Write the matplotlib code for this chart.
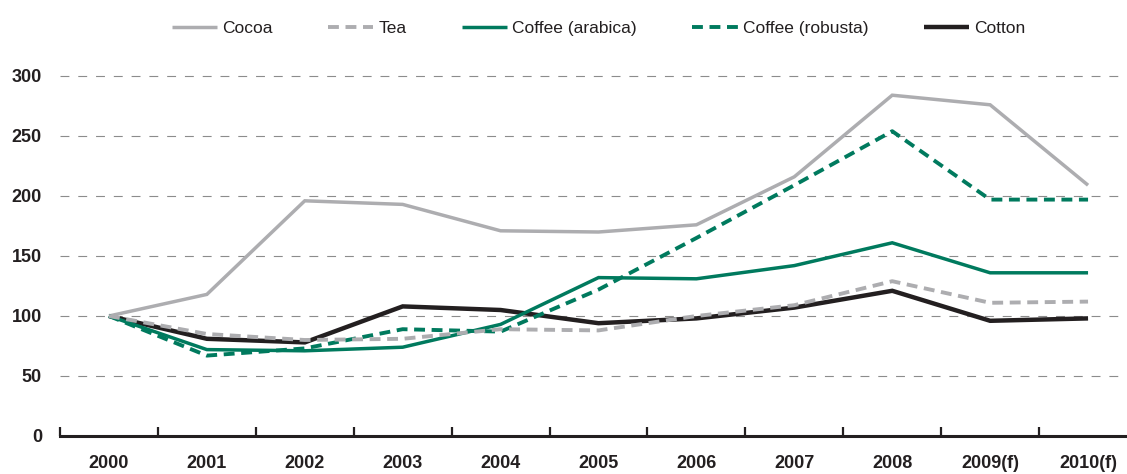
import matplotlib
matplotlib.use("Agg")
import matplotlib.pyplot as plt
import numpy as np

years = ["2000", "2001", "2002", "2003", "2004", "2005",
         "2006", "2007", "2008", "2009(f)", "2010(f)"]

cocoa = [100, 118, 196, 193, 171, 170, 176, 216, 284, 276, 209]
tea = [100, 85, 80, 81, 89, 88, 100, 109, 129, 111, 112]
coffee_arabica = [100, 72, 71, 74, 93, 132, 131, 142, 161, 136, 136]
coffee_robusta = [100, 67, 73, 89, 87, 122, 165, 209, 254, 197, 197]
cotton = [100, 81, 78, 108, 105, 94, 98, 107, 121, 96, 98]

GREEN = "#007A5E"
GREY = "#ADADB0"
DARK = "#231F20"

plt.rcParams["font.family"] = ["Liberation Sans", "DejaVu Sans"]

W, H = 1127, 474
fig = plt.figure(figsize=(W / 100, H / 100), dpi=100)
left_px, right_px = 60, 1137
bottom_px, top_px = 38, 474 - 64
ax = fig.add_axes([left_px / W, bottom_px / H,
                   (right_px - left_px) / W, (top_px - bottom_px) / H])

x = np.arange(len(years))

dash = (0, (2.8, 1.7))
series = [
    ("Cocoa", cocoa, dict(color=GREY, lw=2.5, ls="-"), 3),
    ("Tea", tea, dict(color=GREY, lw=2.8, ls=dash), 6),
    ("Coffee (arabica)", coffee_arabica, dict(color=GREEN, lw=2.5, ls="-"), 4),
    ("Coffee (robusta)", coffee_robusta, dict(color=GREEN, lw=2.8, ls=dash), 5),
    ("Cotton", cotton, dict(color=DARK, lw=3.2, ls="-"), 2),
]
for label, vals, style, z in series:
    ax.plot(x, vals, label=label, zorder=z, solid_joinstyle="miter",
            dash_capstyle="butt", solid_capstyle="butt", **style)

ax.set_xlim(-0.5, len(years) - 0.5)
ax.set_ylim(0, 310)
ax.set_yticks([0, 50, 100, 150, 200, 250, 300])

for v in [50, 100, 150, 200, 250, 300]:
    ax.axhline(v, color="#8C8C8C", lw=0.8, ls=(0, (8, 8)), zorder=1)

for s in ["top", "right", "left"]:
    ax.spines[s].set_visible(False)
ax.spines["bottom"].set_linewidth(2.2)
ax.spines["bottom"].set_color(DARK)
ax.spines["bottom"].set_zorder(7)

ax.set_xticks(x)
ax.set_xticklabels(years)
ax.set_xticks(np.arange(-0.5, len(years), 1.0), minor=True)
ax.tick_params(axis="x", which="major", length=0, pad=14,
               labelsize=13, labelcolor=DARK)
ax.tick_params(axis="x", which="minor", direction="in", length=6.5,
               width=1.6, color=DARK)
ax.tick_params(axis="y", length=0, pad=13, labelsize=13, labelcolor=DARK)
for t in ax.get_xticklabels() + ax.get_yticklabels():
    t.set_fontweight("bold")

leg = ax.legend(loc="center", bbox_to_anchor=(0.5, 1 + (64 - 28) / (top_px - bottom_px)),
                ncol=5, frameon=False, fontsize=12.5, handlelength=2.6,
                handletextpad=0.3, columnspacing=3.2)
for t in leg.get_texts():
    t.set_color(DARK)

fig.savefig("out.png", dpi=100)
